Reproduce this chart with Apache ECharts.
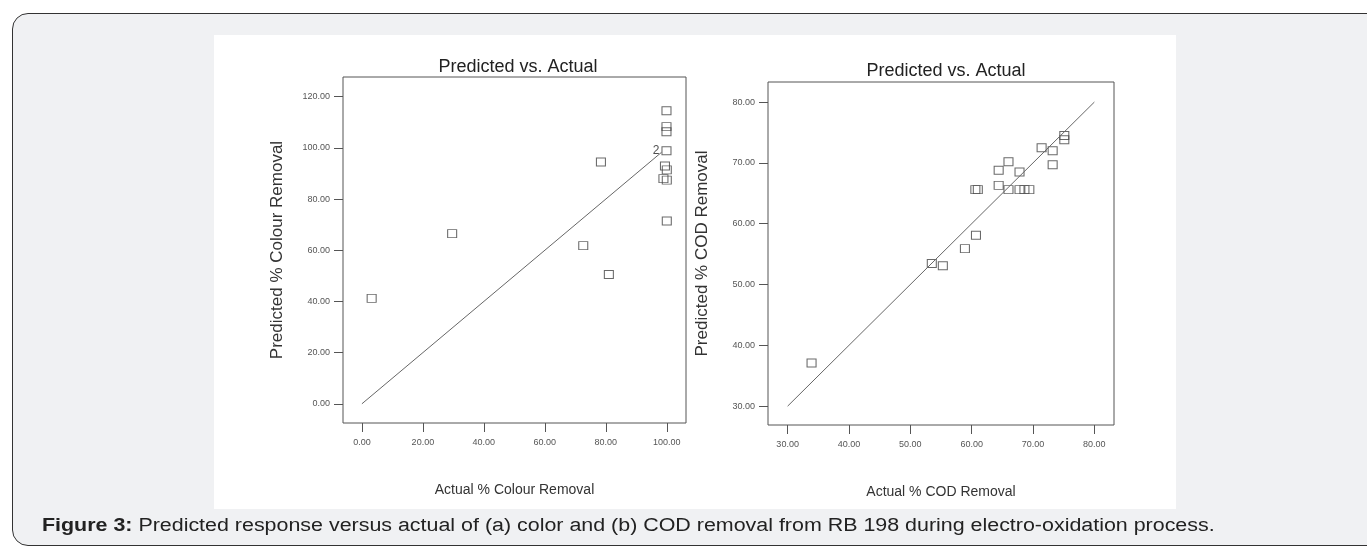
<!DOCTYPE html>
<html>
<head>
<meta charset="utf-8">
<script src="https://cdn.jsdelivr.net/npm/echarts@6/dist/echarts.min.js"></script>
<style>
  html, body { margin: 0; padding: 0; background: #fff; }
  #wrap { position: relative; width: 1367px; height: 547px; overflow: hidden; }
  #box {
    position: absolute; left: 12px; top: 13px; width: 1380px; height: 531px;
    background: #f0f1f3; border: 1.5px solid #333; border-radius: 16px;
  }
  #panel { position: absolute; left: 214px; top: 35px; width: 962px; height: 474px; background: #fff; }
  #chart { position: absolute; left: 0; top: 0; width: 1367px; height: 547px; }
  #caption {
    position: absolute; left: 42px; top: 515px; white-space: nowrap;
    font-family: "Liberation Sans", Arial, sans-serif; font-size: 18px; color: #222;
    transform-origin: 0 50%; transform: scaleX(1.19);
  }
</style>
</head>
<body>
<div id="wrap">
  <div id="box"></div>
  <div id="panel"></div>
  <div id="chart"></div>
  <div id="caption"><b>Figure 3:</b> Predicted response versus actual of (a) color and (b) COD removal from RB 198 during electro-oxidation process.</div>
</div>
<script>
// (a) colour removal
const colourActual = [3.2, 29.6, 72.6, 78.4, 81.0, 99.9, 99.9, 99.9, 99.9, 99.4, 100.0, 98.9, 100.0, 100.0]
const colourPredicted = [41.2, 66.5, 61.8, 94.5, 50.5, 114.5, 108.3, 106.3, 98.9, 92.9, 91.4, 88.0, 87.4, 71.4]
const colourRepeat = [1, 1, 1, 1, 1, 1, 1, 1, 2, 1, 1, 1, 1, 1]
const colourTicksX = [0, 20, 40, 60, 80, 100]
const colourTicksY = [0, 20, 40, 60, 80, 100, 120]
const colourLine = [0, 98.3]

// (b) COD removal
const codActual = [33.9, 53.5, 55.3, 58.9, 60.7, 60.6, 61.0, 64.4, 64.4, 66.0, 66.0, 67.8, 67.8, 68.6, 69.4, 71.4, 73.2, 73.2, 75.1, 75.1]
const codPredicted = [37.1, 53.45, 53.1, 55.9, 58.1, 65.6, 65.6, 68.8, 66.3, 70.2, 65.6, 68.5, 65.6, 65.6, 65.6, 72.5, 72.0, 69.7, 74.5, 73.8]
const codTicksX = [30, 40, 50, 60, 70, 80]
const codTicksY = [30, 40, 50, 60, 70, 80]
const codLine = [30, 80]

const font = '"Liberation Sans", Arial, sans-serif'

function pairs(xs, ys) {
  return xs.map((x, i) => [x, ys[i]])
}

function makeAxis(idx, min, max, ticks, name, isY) {
  return {
    type: 'value',
    gridIndex: idx,
    min: min,
    max: max,
    name: name,
    nameLocation: 'middle',
    nameGap: isY ? 57 : 60,
    nameTextStyle: isY
      ? { fontFamily: font, fontSize: 17, color: '#333' }
      : { fontFamily: font, fontSize: 14, color: '#333' },
    splitLine: { show: false },
    axisLine: { show: false, onZero: false },
    axisTick: { show: true, length: 9, customValues: ticks, lineStyle: { color: '#555' } },
    axisLabel: {
      customValues: ticks,
      margin: isY ? 13 : 15,
      fontFamily: font,
      fontSize: 9,
      color: '#555',
      formatter: v => v.toFixed(2)
    }
  }
}

const markStyle = { color: 'rgba(0,0,0,0)', borderColor: '#444', borderWidth: 1 }

const colourData = pairs(colourActual, colourPredicted).map((p, i) => {
  if (colourRepeat[i] > 1) {
    return {
      value: p,
      label: { show: true, formatter: String(colourRepeat[i]), position: 'left', distance: 2,
        fontFamily: font, fontSize: 12, color: '#222' }
    }
  }
  return p
})

const titleStyle = { fontFamily: font, fontSize: 18, fontWeight: 'normal', color: '#222' }

const chart = echarts.init(document.getElementById('chart'))
chart.setOption({
  animation: false,
  backgroundColor: 'transparent',
  title: [
    { text: 'Predicted vs. Actual', left: 513, top: 53, textAlign: 'center', textStyle: titleStyle },
    { text: 'Predicted vs. Actual', left: 941, top: 57, textAlign: 'center', textStyle: titleStyle }
  ],
  grid: [
    { left: 343, top: 77, width: 343, height: 346, show: true, borderColor: '#555', borderWidth: 1 },
    { left: 768, top: 82, width: 346, height: 343, show: true, borderColor: '#555', borderWidth: 1 }
  ],
  xAxis: [
    makeAxis(0, -6.2, 106.3, colourTicksX, 'Actual % Colour Removal', false),
    makeAxis(1, 26.8, 83.2, codTicksX, 'Actual % COD Removal', false)
  ],
  yAxis: [
    makeAxis(0, -7.5, 127.7, colourTicksY, 'Predicted % Colour Removal', true),
    makeAxis(1, 26.9, 83.3, codTicksY, 'Predicted % COD Removal', true)
  ],
  series: [
    {
      type: 'line', xAxisIndex: 0, yAxisIndex: 0, symbol: 'none', silent: true,
      data: pairs(colourLine, colourLine),
      lineStyle: { color: '#666', width: 1 }
    },
    {
      type: 'scatter', xAxisIndex: 0, yAxisIndex: 0, symbol: 'rect', symbolSize: [9, 8],
      data: colourData, itemStyle: markStyle
    },
    {
      type: 'line', xAxisIndex: 1, yAxisIndex: 1, symbol: 'none', silent: true,
      data: pairs(codLine, codLine),
      lineStyle: { color: '#666', width: 1 }
    },
    {
      type: 'scatter', xAxisIndex: 1, yAxisIndex: 1, symbol: 'rect', symbolSize: [9, 8],
      data: pairs(codActual, codPredicted), itemStyle: markStyle
    }
  ]
})
</script>
</body>
</html>
